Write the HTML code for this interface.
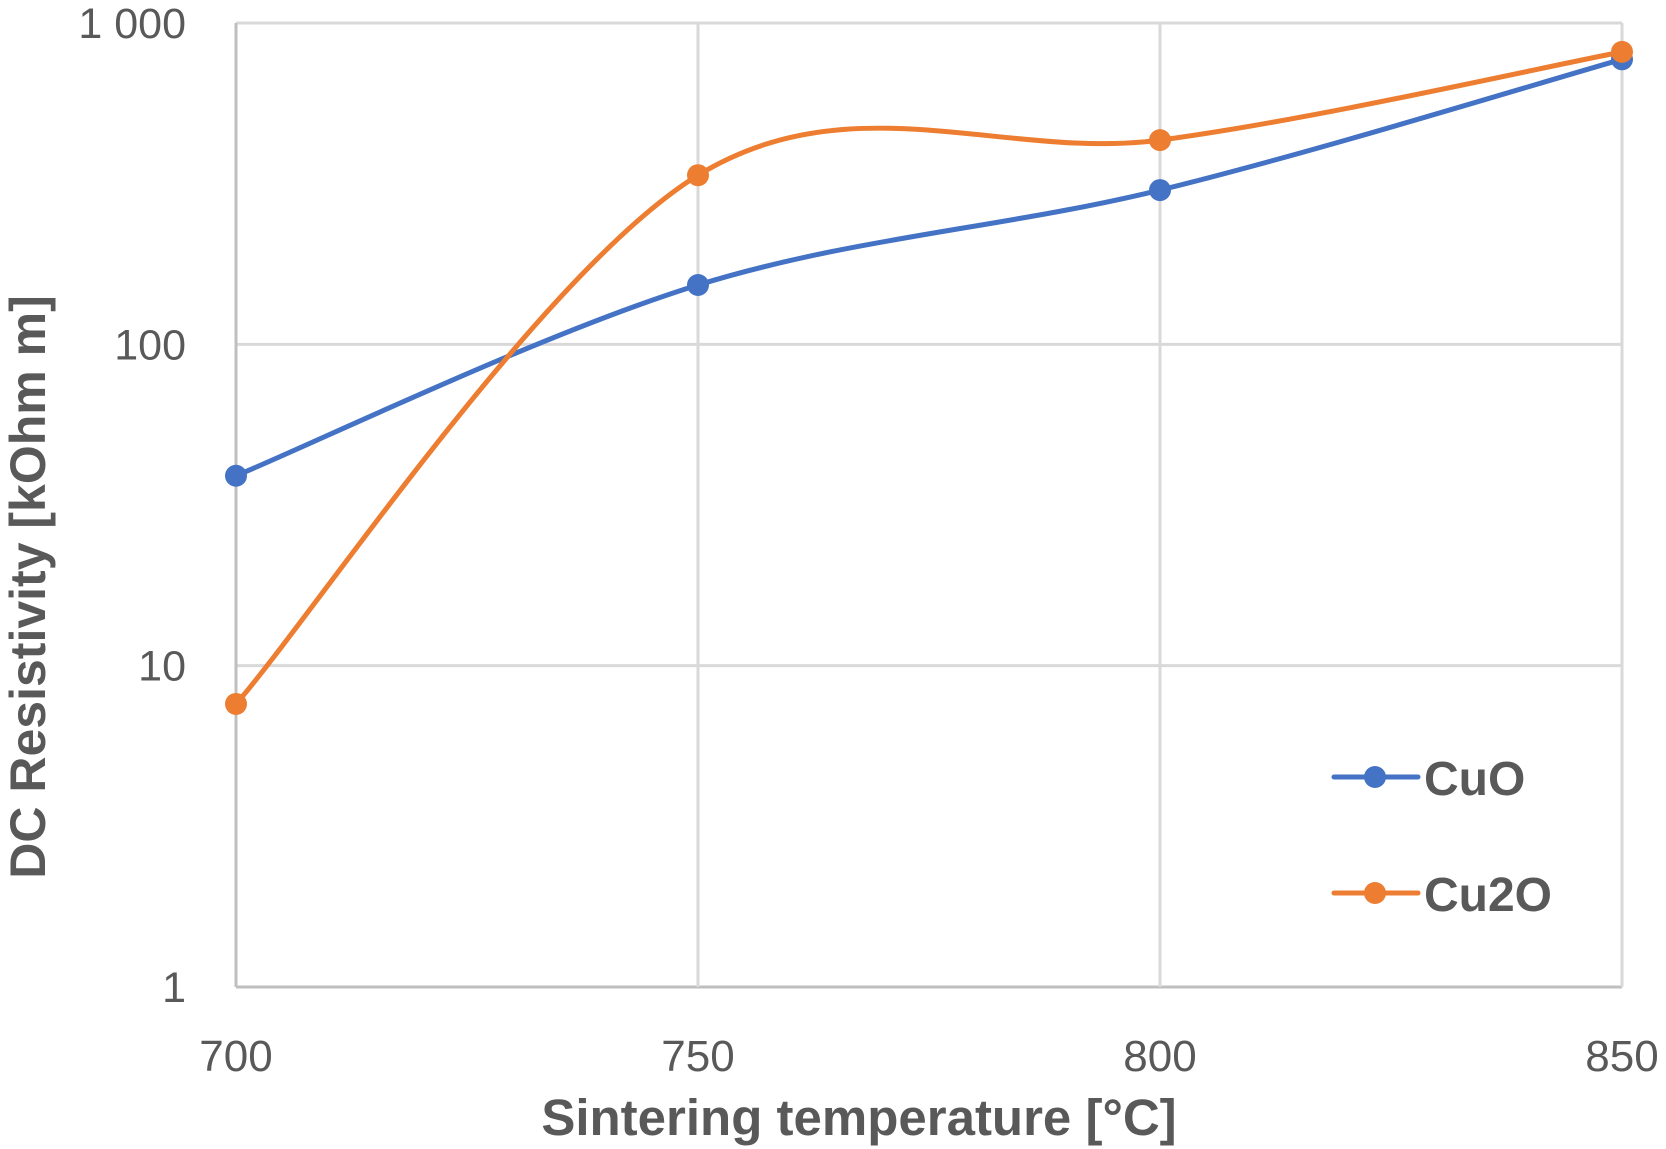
<!DOCTYPE html>
<html><head><meta charset="utf-8"><style>
html,body{margin:0;padding:0;background:#fff;}
svg{display:block;font-family:"Liberation Sans",sans-serif;}
</style></head><body>
<svg id="chart" width="1666" height="1149" viewBox="0 0 1666 1149">
<g id="grid"></g>
<g id="yticks"></g>
<g id="xticks"></g>
<g id="series"></g>
<text x="32" y="587" transform="rotate(-90 32 587)" text-anchor="middle" dominant-baseline="middle" font-size="50" font-weight="bold" fill="#595959">DC Resistivity [kOhm m]</text>
<text x="859" y="1135" text-anchor="middle" font-size="51" font-weight="bold" fill="#595959">Sintering temperature [°C]</text>
<g>
<g>
<line x1="1334" y1="777" x2="1418" y2="777" stroke="#4472C4" stroke-width="5" stroke-linecap="round"/>
<circle cx="1375" cy="777" r="11" fill="#4472C4"/>
<text x="1424" y="795" font-size="48" font-weight="bold" fill="#595959">CuO</text>
</g>
<g>
<line x1="1334" y1="893" x2="1418" y2="893" stroke="#ED7D31" stroke-width="5" stroke-linecap="round"/>
<circle cx="1375" cy="893" r="11" fill="#ED7D31"/>
<text x="1424" y="911" font-size="48" font-weight="bold" fill="#595959">Cu2O</text>
</g>
</g>
</svg>
<script>
const categories = [700, 750, 800, 850];
const cuoValues = [39, 153, 302, 771];
const cu2oValues = [7.6, 336, 432, 813];
const yTickValues = [1, 10, 100, 1000];
const yTickLabels = ["1", "10", "100", "1 000"];

const L = 236, R = 1622, T = 23, B = 987;
const NS = "http://www.w3.org/2000/svg";
function xScale(v){ return L + (v - categories[0]) / (categories[categories.length-1] - categories[0]) * (R - L); }
function yScale(v){ return B - (Math.log10(v) - 0) / 3 * (B - T); }

const grid = document.getElementById('grid');
yTickValues.forEach((v, i) => {
  const y = yScale(v);
  const ln = document.createElementNS(NS, 'line');
  ln.setAttribute('x1', L); ln.setAttribute('x2', R); ln.setAttribute('y1', y); ln.setAttribute('y2', y);
  ln.setAttribute('stroke', i === 0 ? '#bfbfbf' : '#d9d9d9'); ln.setAttribute('stroke-width', 3);
  
  
  grid.appendChild(ln);
  const t = document.createElementNS(NS, 'text');
  t.setAttribute('x', 186); t.setAttribute('y', y + 15);
  t.setAttribute('text-anchor', 'end'); t.setAttribute('font-size', '43'); t.setAttribute('fill', '#595959');
  t.textContent = yTickLabels[i];
  
  
  document.getElementById('yticks').appendChild(t);
});
categories.forEach((c, i) => {
  const x = xScale(c);
  const ln = document.createElementNS(NS, 'line');
  ln.setAttribute('x1', x); ln.setAttribute('x2', x); ln.setAttribute('y1', T); ln.setAttribute('y2', B);
  ln.setAttribute('stroke', i === 0 ? '#bfbfbf' : '#d9d9d9'); ln.setAttribute('stroke-width', 3);
  
  
  grid.appendChild(ln);
  const t = document.createElementNS(NS, 'text');
  t.setAttribute('x', x); t.setAttribute('y', 1071);
  t.setAttribute('text-anchor', 'middle'); t.setAttribute('font-size', '44'); t.setAttribute('fill', '#595959');
  t.textContent = String(c);
  
  
  document.getElementById('xticks').appendChild(t);
});

function smoothPath(pts){
  let d = 'M' + pts[0][0] + ',' + pts[0][1];
  for (let i = 0; i < pts.length - 1; i++){
    const p0 = pts[Math.max(i-1,0)], p1 = pts[i], p2 = pts[i+1], p3 = pts[Math.min(i+2, pts.length-1)];
    const c1 = [p1[0] + (p2[0]-p0[0])/6, p1[1] + (p2[1]-p0[1])/6];
    const c2 = [p2[0] - (p3[0]-p1[0])/6, p2[1] - (p3[1]-p1[1])/6];
    d += ' C' + c1.join(',') + ' ' + c2.join(',') + ' ' + p2.join(',');
  }
  return d;
}
function drawSeries(vals, color, name){
  const g = document.createElementNS(NS, 'g');
  
  
  const pts = vals.map((v, i) => [xScale(categories[i]), yScale(v)]);
  const p = document.createElementNS(NS, 'path');
  p.setAttribute('d', smoothPath(pts)); p.setAttribute('fill', 'none');
  p.setAttribute('stroke', color); p.setAttribute('stroke-width', 5); p.setAttribute('stroke-linecap', 'round');
  
  
  g.appendChild(p);
  pts.forEach(pt => {
    const c = document.createElementNS(NS, 'circle');
    c.setAttribute('cx', pt[0]); c.setAttribute('cy', pt[1]); c.setAttribute('r', 11); c.setAttribute('fill', color);
    
    
    g.appendChild(c);
  });
  document.getElementById('series').appendChild(g);
}
drawSeries(cuoValues, '#4472C4', 'cuo-series');
drawSeries(cu2oValues, '#ED7D31', 'cu2o-series');
</script>
</body></html>
